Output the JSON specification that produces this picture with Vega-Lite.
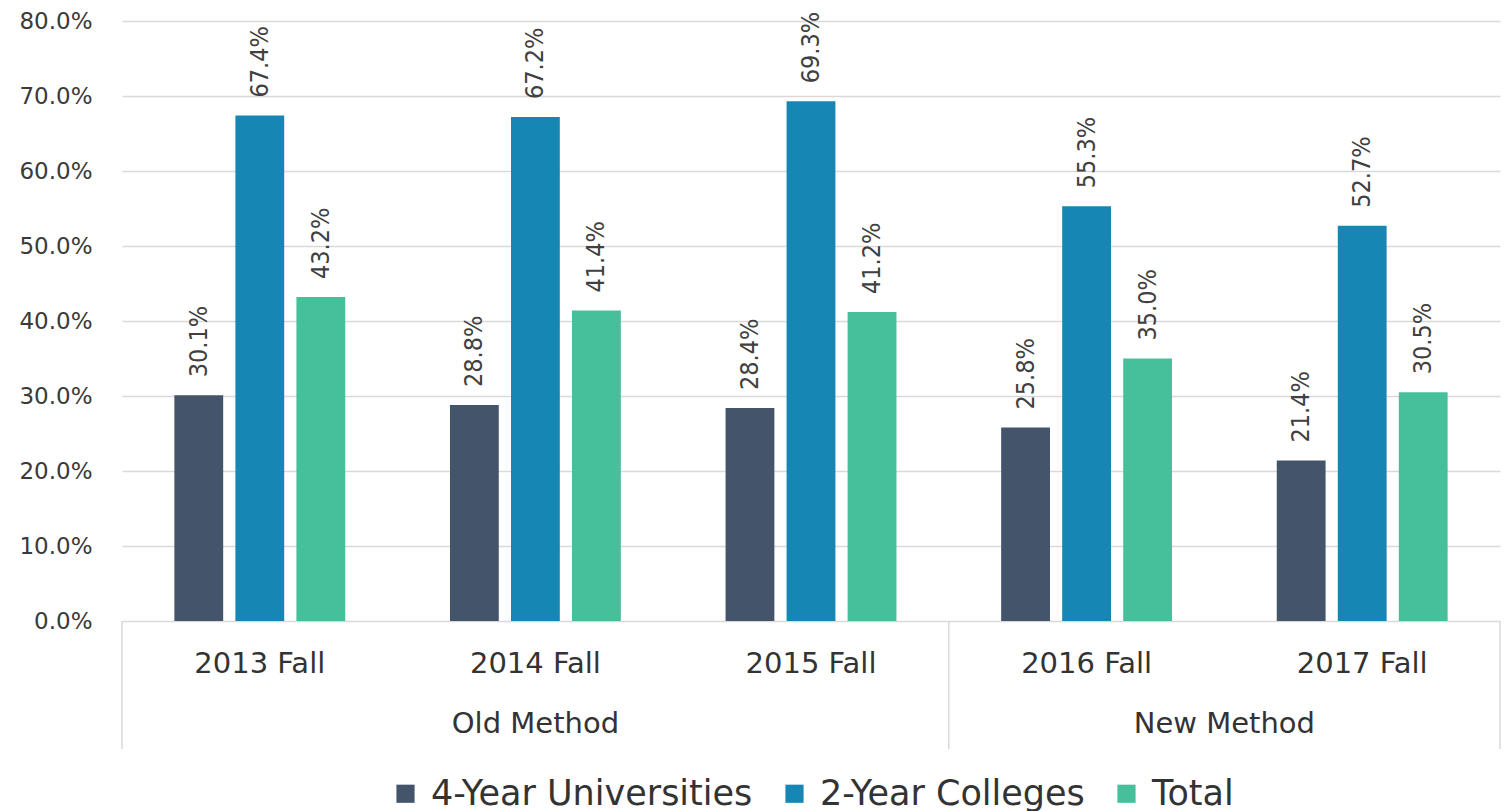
{
  "$schema": "https://vega.github.io/schema/vega-lite/v6.json",
  "padding": {"left": 18, "top": 10, "right": 4, "bottom": 0},
  "background": "white",
  "spacing": 0,
  "bounds": "flush",
  "config": {
    "view": {"stroke": null},
    "legend": {"layout": {"bottom": {"anchor": "middle"}}}
  },
  "datasets": {
    "bars": [
      {"period": "2013 Fall", "method": "Old Method", "series": "4-Year Universities", "value": 0.301},
      {"period": "2013 Fall", "method": "Old Method", "series": "2-Year Colleges", "value": 0.674},
      {"period": "2013 Fall", "method": "Old Method", "series": "Total", "value": 0.432},
      {"period": "2014 Fall", "method": "Old Method", "series": "4-Year Universities", "value": 0.288},
      {"period": "2014 Fall", "method": "Old Method", "series": "2-Year Colleges", "value": 0.672},
      {"period": "2014 Fall", "method": "Old Method", "series": "Total", "value": 0.414},
      {"period": "2015 Fall", "method": "Old Method", "series": "4-Year Universities", "value": 0.284},
      {"period": "2015 Fall", "method": "Old Method", "series": "2-Year Colleges", "value": 0.693},
      {"period": "2015 Fall", "method": "Old Method", "series": "Total", "value": 0.412},
      {"period": "2016 Fall", "method": "New Method", "series": "4-Year Universities", "value": 0.258},
      {"period": "2016 Fall", "method": "New Method", "series": "2-Year Colleges", "value": 0.553},
      {"period": "2016 Fall", "method": "New Method", "series": "Total", "value": 0.350},
      {"period": "2017 Fall", "method": "New Method", "series": "4-Year Universities", "value": 0.214},
      {"period": "2017 Fall", "method": "New Method", "series": "2-Year Colleges", "value": 0.527},
      {"period": "2017 Fall", "method": "New Method", "series": "Total", "value": 0.305}
    ],
    "periods": [
      {"period": "2013 Fall"}, {"period": "2014 Fall"}, {"period": "2015 Fall"}, {"period": "2016 Fall"}, {"period": "2017 Fall"}
    ],
    "sepStart": [{"period": "2013 Fall"}, {"period": "2016 Fall"}],
    "sepEnd": [{"period": "2017 Fall"}],
    "methods": [
      {"method": "Old Method", "period": "2014 Fall"},
      {"method": "New Method", "period": "2016 Fall"}
    ]
  },
  "resolve": {"scale": {"x": "independent", "y": "independent"}},
  "vconcat": [
    {
      "width": 1378,
      "height": 600,
      "data": {"name": "bars"},
      "layer": [
        {
          "mark": {"type": "bar"},
          "encoding": {
            "x": {
              "field": "period", "type": "nominal",
              "sort": ["2013 Fall", "2014 Fall", "2015 Fall", "2016 Fall", "2017 Fall"],
              "scale": {"paddingInner": 0.38, "paddingOuter": 0.19},
              "axis": null
            },
            "xOffset": {
              "field": "series", "type": "nominal",
              "sort": ["4-Year Universities", "2-Year Colleges", "Total"],
              "scale": {"paddingInner": 0.2}
            },
            "y": {
              "field": "value", "type": "quantitative",
              "scale": {"domain": [0, 0.8], "nice": false},
              "axis": {
                "values": [0, 0.1, 0.2, 0.3, 0.4, 0.5, 0.6, 0.7, 0.8],
                "format": ".1%",
                "title": null,
                "domain": false,
                "ticks": false,
                "grid": true,
                "gridColor": "#d9d9d9",
                "gridWidth": 1.5,
                "labelFont": "DejaVu Sans",
                "labelFontSize": 23,
                "labelColor": "#3a3a3a",
                "labelPadding": 30
              }
            },
            "color": {
              "field": "series", "type": "nominal",
              "sort": ["4-Year Universities", "2-Year Colleges", "Total"],
              "scale": {
                "domain": ["4-Year Universities", "2-Year Colleges", "Total"],
                "range": ["#44546A", "#1687B4", "#46BF9B"]
              },
              "legend": {
                "title": null,
                "orient": "bottom",
                "direction": "horizontal",
                "symbolType": "square",
                "symbolSize": 330,
                "symbolStrokeWidth": 0,
                "labelFont": "DejaVu Sans",
                "labelFontSize": 35,
                "labelColor": "#333333",
                "labelLimit": 500,
                "columnPadding": 24,
                "labelOffset": 8,
                "offset": 26
              }
            }
          }
        },
        {
          "mark": {
            "type": "text",
            "angle": 270,
            "align": "left",
            "baseline": "middle",
            "dx": 18,
            "font": "DejaVu Sans Condensed",
            "fontSize": 25,
            "color": "#404040"
          },
          "encoding": {
            "x": {
              "field": "period", "type": "nominal",
              "sort": ["2013 Fall", "2014 Fall", "2015 Fall", "2016 Fall", "2017 Fall"]
            },
            "xOffset": {
              "field": "series", "type": "nominal",
              "sort": ["4-Year Universities", "2-Year Colleges", "Total"]
            },
            "y": {"field": "value", "type": "quantitative"},
            "text": {"field": "value", "type": "quantitative", "format": ".1%"}
          }
        }
      ]
    },
    {
      "width": 1378,
      "height": 128,
      "layer": [
        {
          "data": {"name": "sepStart"},
          "mark": {"type": "rule", "color": "#d9d9d9", "strokeWidth": 1.5},
          "encoding": {
            "x": {
              "field": "period", "type": "nominal", "bandPosition": 0,
              "sort": ["2013 Fall", "2014 Fall", "2015 Fall", "2016 Fall", "2017 Fall"],
              "scale": {"domain": ["2013 Fall", "2014 Fall", "2015 Fall", "2016 Fall", "2017 Fall"], "paddingInner": 0, "paddingOuter": 0},
              "axis": null
            }
          }
        },
        {
          "data": {"name": "sepEnd"},
          "mark": {"type": "rule", "color": "#d9d9d9", "strokeWidth": 1.5},
          "encoding": {
            "x": {"field": "period", "type": "nominal", "bandPosition": 1}
          }
        },
        {
          "data": {"name": "periods"},
          "mark": {"type": "text", "font": "DejaVu Sans", "fontSize": 29, "color": "#333333", "baseline": "middle", "dy": -21},
          "encoding": {
            "x": {"field": "period", "type": "nominal"},
            "text": {"field": "period"}
          }
        },
        {
          "data": {"name": "methods"},
          "transform": [{"filter": "datum.method === 'Old Method'"}],
          "mark": {"type": "text", "font": "DejaVu Sans", "fontSize": 29, "color": "#333333", "baseline": "middle", "dy": 39},
          "encoding": {
            "x": {"field": "period", "type": "nominal", "bandPosition": 0.5},
            "text": {"field": "method"}
          }
        },
        {
          "data": {"name": "methods"},
          "transform": [{"filter": "datum.method === 'New Method'"}],
          "mark": {"type": "text", "font": "DejaVu Sans", "fontSize": 29, "color": "#333333", "baseline": "middle", "dy": 39},
          "encoding": {
            "x": {"field": "period", "type": "nominal", "bandPosition": 1},
            "text": {"field": "method"}
          }
        }
      ]
    }
  ]
}
